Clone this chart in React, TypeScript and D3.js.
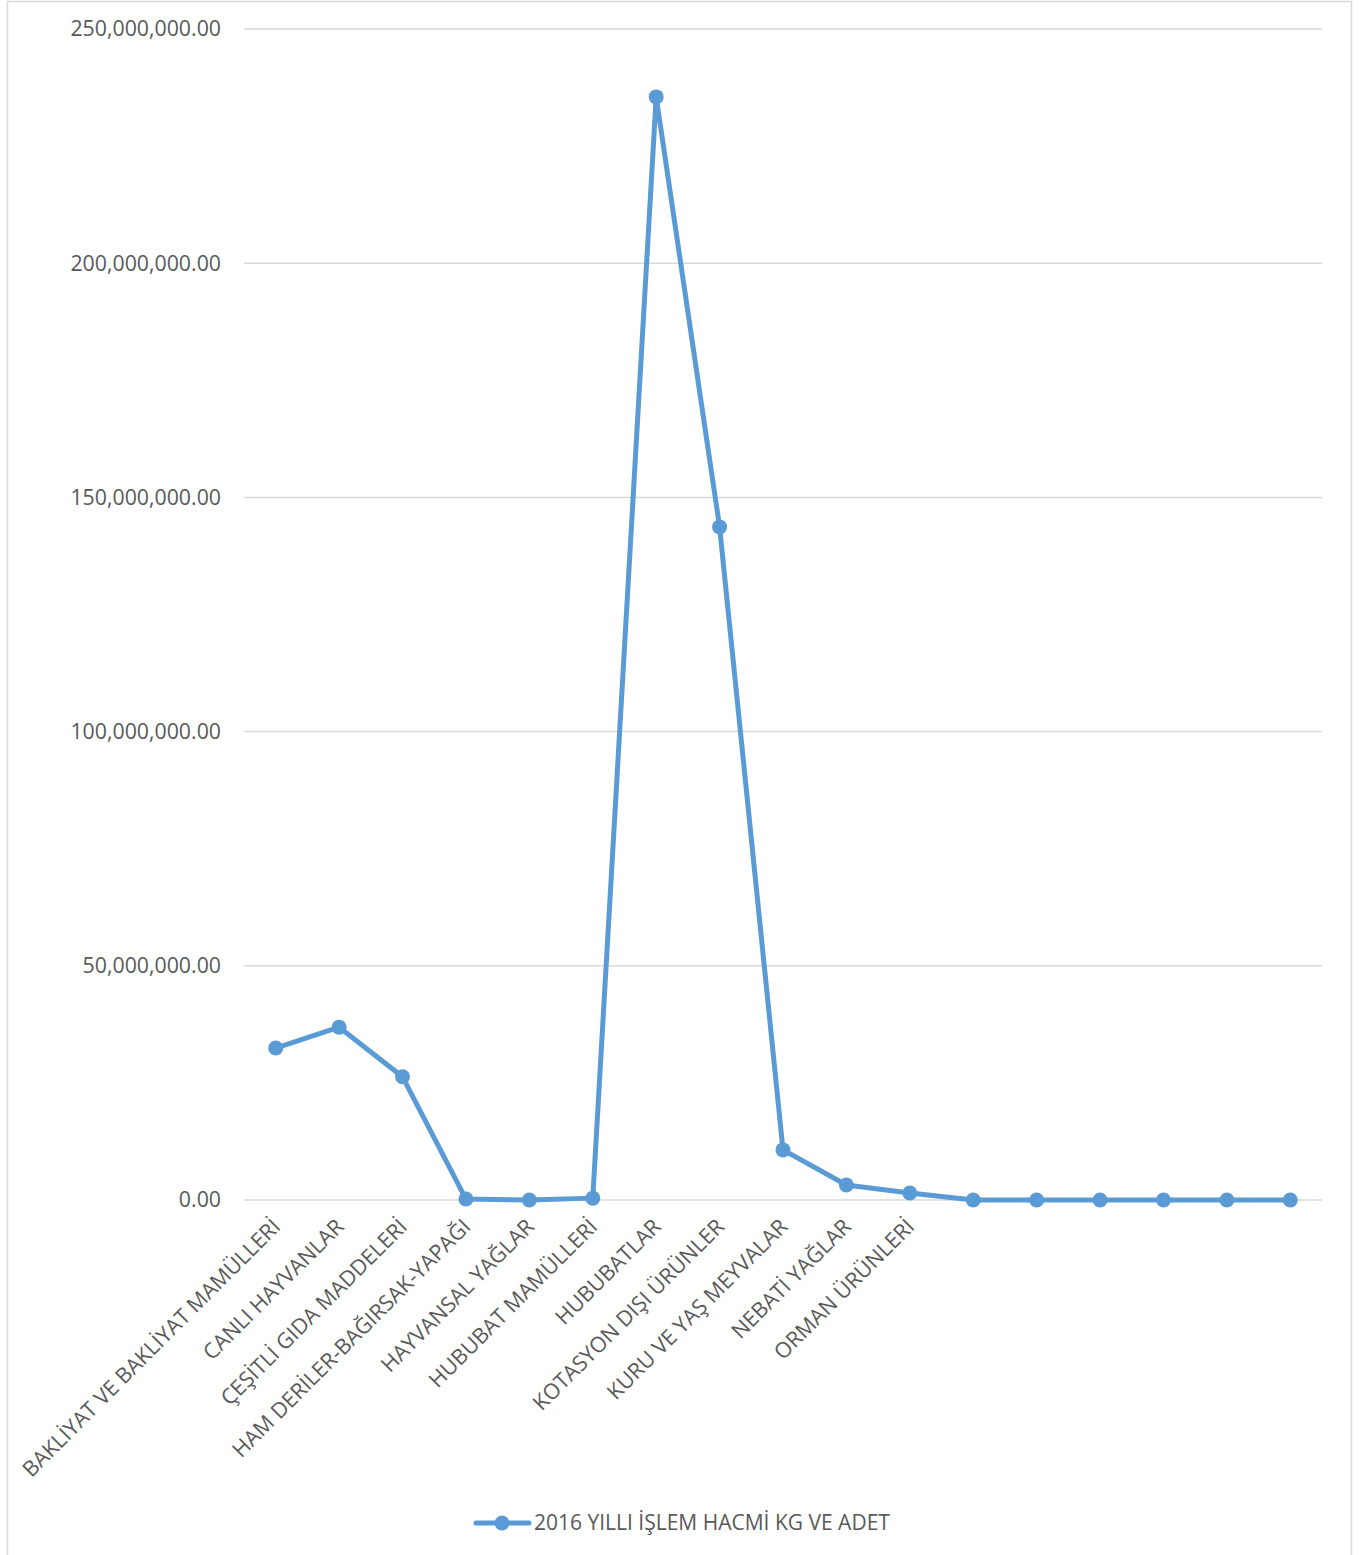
import React, { useEffect, useRef } from 'react';
import * as d3 from 'd3';

const categories = [
  'BAKLİYAT VE BAKLİYAT MAMÜLLERİ',
  'CANLI HAYVANLAR',
  'ÇEŞİTLİ GIDA MADDELERİ',
  'HAM DERİLER-BAĞIRSAK-YAPAĞI',
  'HAYVANSAL YAĞLAR',
  'HUBUBAT MAMÜLLERİ',
  'HUBUBATLAR',
  'KOTASYON DIŞI ÜRÜNLER',
  'KURU VE YAŞ MEYVALAR',
  'NEBATİ YAĞLAR',
  'ORMAN ÜRÜNLERİ',
  '', '', '', '', '', '',
];

const values = [
  32450000, 36900000, 26300000, 200000, 0, 400000,
  235500000, 143700000, 10700000, 3200000, 1500000,
  0, 0, 0, 0, 0, 0,
];

const yTicks = [0, 50000000, 100000000, 150000000, 200000000, 250000000];
const seriesName = '2016 YILLI İŞLEM HACMİ KG VE ADET';

const W = 1360;
const H = 1555;
const FONT = "'Open Sans', 'Noto Sans', sans-serif";

const App: React.FC = () => {
  const svgRef = useRef<SVGSVGElement>(null);

  useEffect(() => {
    if (!svgRef.current) return;
    const svg = d3.select(svgRef.current);
    svg.selectAll('*').remove();

    const left = 244, right = 1322, top = 29, bottom = 1200;
    const color = '#5b9bd5';

    // outer border
    svg.append('rect')
      .attr('x', 7.5).attr('y', 1.5)
      .attr('width', 1344).attr('height', 1560)
      .attr('fill', '#fff')
      .attr('stroke', '#d9d9d9')
      .attr('stroke-width', 1.5);

    const x = d3.scaleBand<number>()
      .domain(categories.map((_, i) => i))
      .range([left, right]);
    const y = d3.scaleLinear().domain([0, 250000000]).range([bottom, top]);

    // gridlines
    svg.append('g').selectAll('line')
      .data(yTicks)
      .enter().append('line')
      .attr('x1', left).attr('x2', right)
      .attr('y1', d => y(d)).attr('y2', d => y(d))
      .attr('stroke', '#d9d9d9')
      .attr('stroke-width', 1.5);

    // y labels
    const fmt = d3.format(',.2f');
    svg.append('g').selectAll('text')
      .data(yTicks)
      .enter().append('text')
      .attr('x', 221)
      .attr('y', d => y(d))
      .attr('dy', '0.35em')
      .attr('text-anchor', 'end')
      .attr('fill', '#595959')
      .style('font-family', FONT)
      .style('font-size', '21.3px')
      .text(d => fmt(d));

    // x labels
    svg.append('g').selectAll('text')
      .data(categories)
      .enter().append('text')
      .attr('transform', (_, i) => `translate(${x(i)! + x.bandwidth() / 2 + 6},${bottom + 28}) rotate(-45)`)
      .attr('text-anchor', 'end')
      .attr('fill', '#595959')
      .style('font-family', FONT)
      .style('font-size', '21.5px')
      .text(d => d);

    const cx = (i: number) => x(i)! + x.bandwidth() / 2;

    const line = d3.line<number>()
      .x((_, i) => cx(i))
      .y(d => y(d));

    svg.append('path')
      .datum(values)
      .attr('d', line)
      .attr('fill', 'none')
      .attr('stroke', color)
      .attr('stroke-width', 5)
      .attr('stroke-linejoin', 'round');

    svg.append('g').selectAll('circle')
      .data(values)
      .enter().append('circle')
      .attr('cx', (_, i) => cx(i))
      .attr('cy', d => y(d))
      .attr('r', 7.5)
      .attr('fill', color);

    // legend
    const lg = svg.append('g');
    lg.append('line')
      .attr('x1', 476).attr('x2', 529)
      .attr('y1', 1523).attr('y2', 1523)
      .attr('stroke', color)
      .attr('stroke-width', 5)
      .attr('stroke-linecap', 'round');
    lg.append('circle')
      .attr('cx', 502).attr('cy', 1523).attr('r', 7.5)
      .attr('fill', color);
    lg.append('text')
      .attr('x', 534).attr('y', 1523)
      .attr('dy', '0.35em')
      .attr('fill', '#595959')
      .style('font-family', FONT)
      .style('font-size', '21px')
      .text(seriesName);
  }, []);

  return (
    <svg
      ref={svgRef}
      width={W}
      height={H}
      style={{ position: 'absolute', left: 0, top: 0 }}
    />
  );
};

export default App;
